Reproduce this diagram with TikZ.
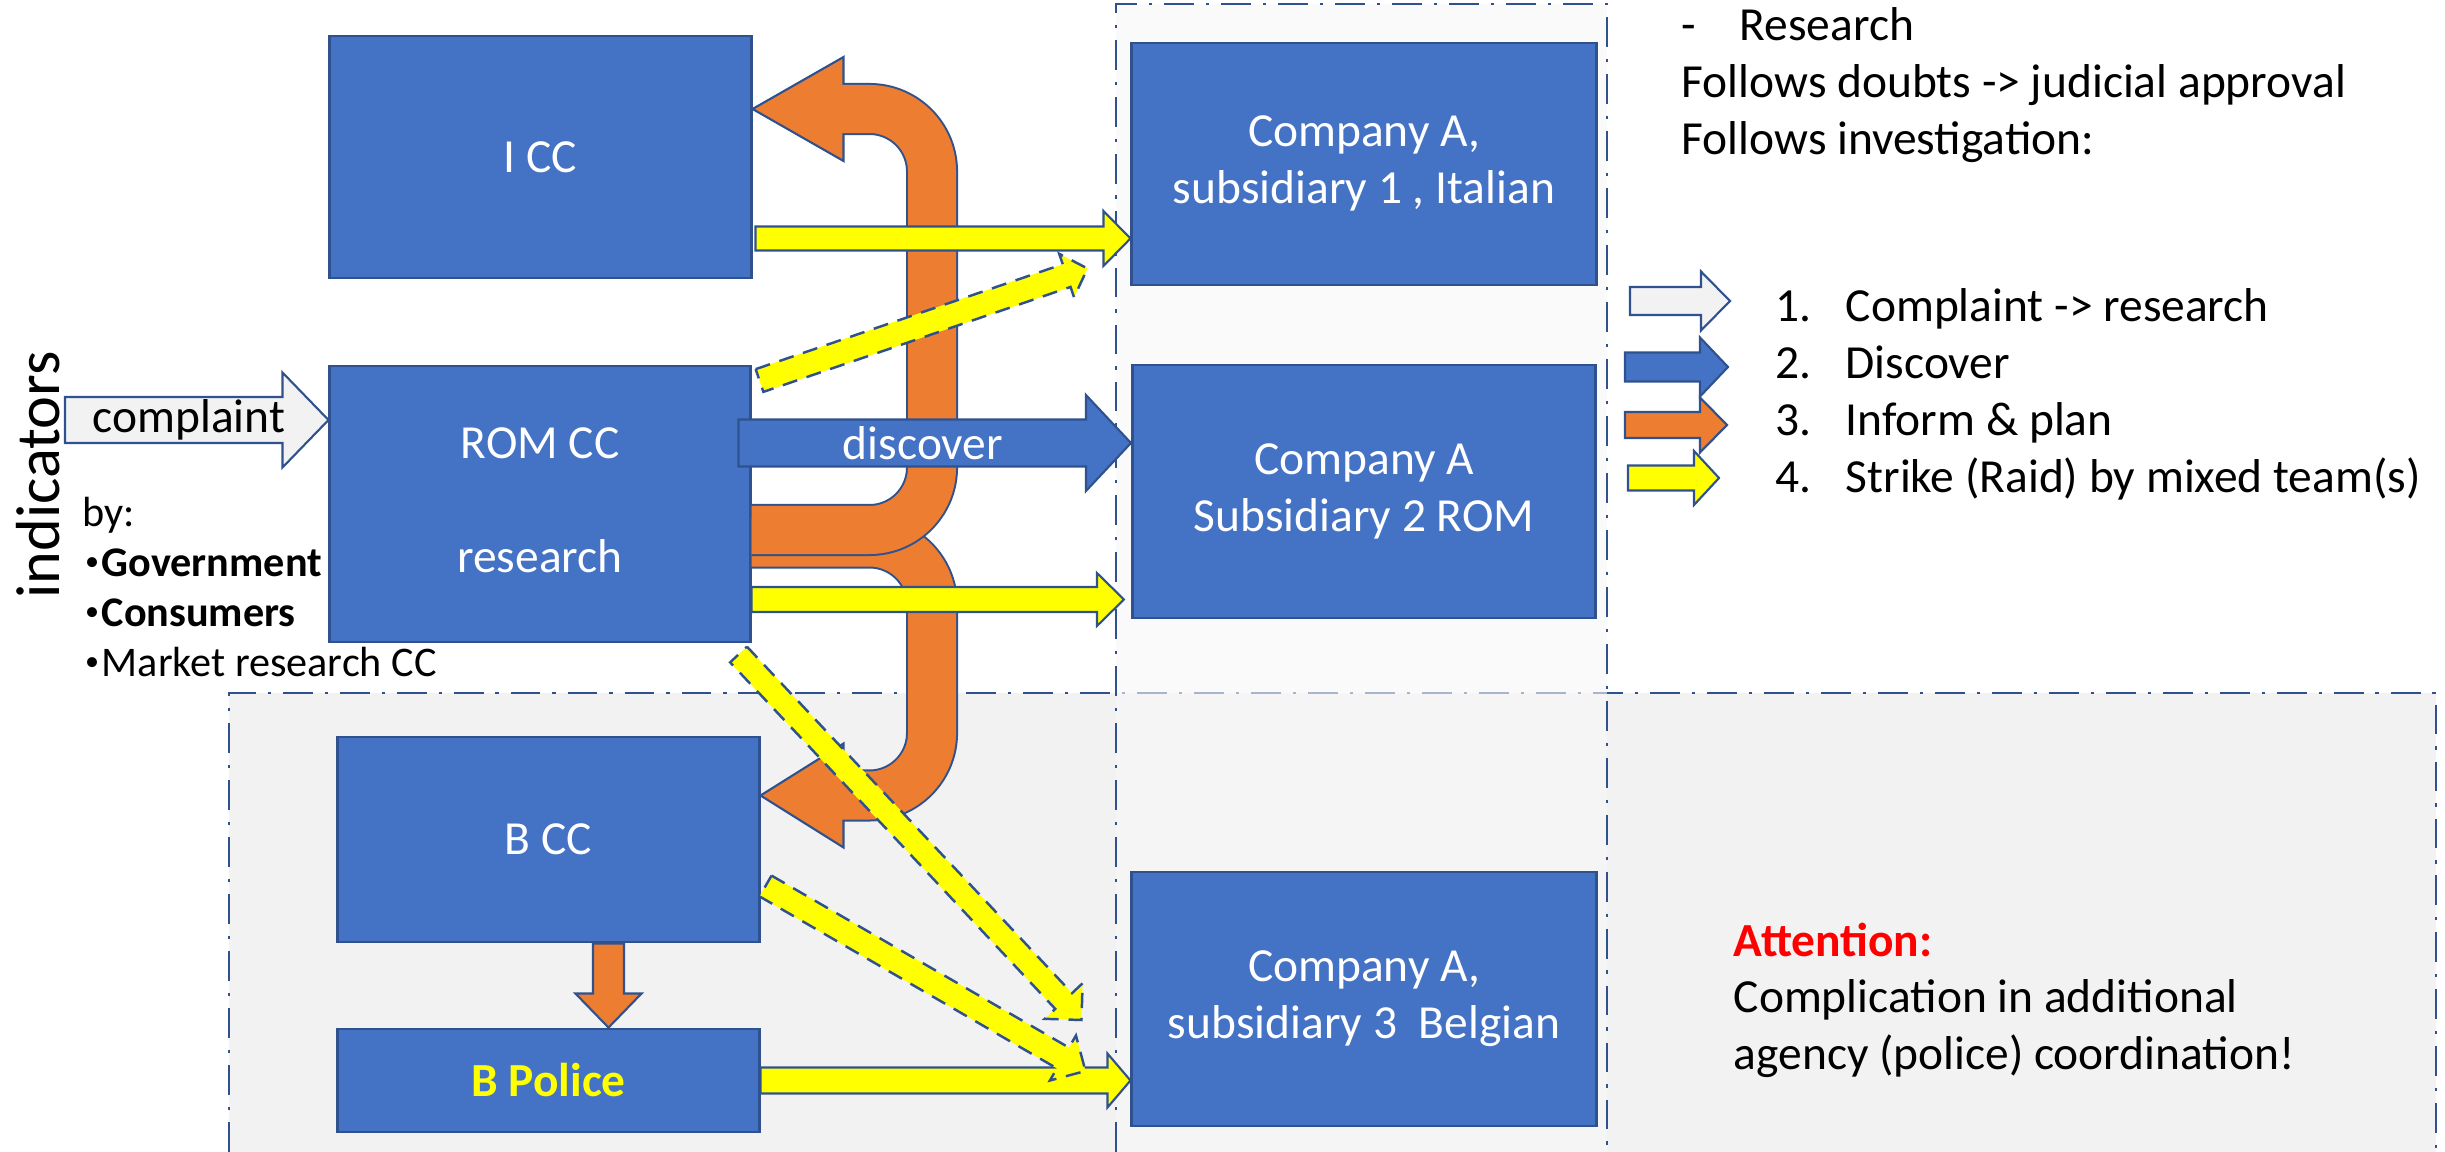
\documentclass[tikz,border=0pt]{standalone}
\usepackage{fontspec}
\setmainfont{Carlito}
\usetikzlibrary{calc}

\definecolor{boxblue}{HTML}{4472C4}
\definecolor{bdrblue}{HTML}{2F528F}
\definecolor{planorange}{HTML}{ED7D31}
\definecolor{raidyellow}{HTML}{FFFF00}
\definecolor{complaintgray}{HTML}{F2F2F2}
\definecolor{columngray}{HTML}{F7F7F7}

\newcommand{\diagfont}{\fontsize{13.5}{16.2}\selectfont}
\newcommand{\byfont}{\fontsize{12}{14.2}\selectfont}
\newcommand{\sidefont}{\fontsize{17.7}{21}\selectfont}
\newcommand{\bydot}{\makebox[0.19cm][c]{\fontsize{8}{8}\selectfont\raisebox{0.45ex}{•}}}

% block arrow: [style]{tail}{tip}{shaft half width}{head half width}{head length}
\newcommand{\blockarrow}[6][]{%
\draw[#1] ($(#2)!#4!90:(#3)$)
  -- ($(#3)!#6!(#2)!#4!90:(#3)$)
  -- ($(#3)!#6!(#2)!#5!90:(#3)$)
  -- (#3)
  -- ($(#3)!#6!(#2)!#5!-90:(#3)$)
  -- ($(#3)!#6!(#2)!#4!-90:(#3)$)
  -- ($(#2)!#4!-90:(#3)$)
  -- cycle;}

\begin{document}
\begin{tikzpicture}[x=0.01cm, y=-0.01cm,
  agency/.style={draw=bdrblue, fill=boxblue, line width=0.8pt, text=white, font=\diagfont, inner sep=0pt},
  frame/.style={draw=bdrblue, line width=0.6pt, dash pattern=on 8.5pt off 3.4pt on 0.9pt off 3.4pt},
  flat/.style={draw=bdrblue, line width=0.6pt, line join=miter},
  raid/.style={flat, fill=raidyellow},
  joint raid/.style={raid, line width=0.7pt, dash pattern=on 4.3pt off 2.8pt},
  plan rim/.style={draw=bdrblue, line width=0.52cm, rounded corners=0.625cm},
  plan band/.style={draw=planorange, line width=0.48cm, rounded corners=0.625cm},
  note/.style={anchor=base west, inner sep=0pt, font=\diagfont}]

\useasboundingbox (0,0) rectangle (2445,1152);

% Belgian zone and company column
\fill[complaintgray] (229,693) rectangle (2436,1152);
\draw[frame] (229,1152) -- (229,693) -- (2436,693) -- (2436,1152);
\fill[columngray, opacity=0.6] (1116,4) rectangle (1607,1152);
\draw[frame] (1116,1152) -- (1116,4) -- (1607,4) -- (1607,1152);

\node[agency, minimum width=4.21cm, minimum height=2.42cm] (i cc) at (540.5,157) {I CC};

\node[agency, minimum width=4.20cm, minimum height=2.76cm] (rom cc) at (540,504) {\begin{tabular}{c}
ROM CC \\
\\
research
\end{tabular}};

\node[agency, minimum width=4.21cm, minimum height=2.05cm] (b cc) at (548.5,839.5) {B CC};

\node[agency, minimum width=4.21cm, minimum height=1.03cm, text=raidyellow, font=\diagfont\bfseries] (b police) at (548.5,1080.5) {B Police};

\node[agency, minimum width=4.64cm, minimum height=2.42cm] (subsidiary 1) at (1364,164) {\begin{tabular}{c}
Company A, \\
subsidiary 1 , Italian
\end{tabular}};

\node[agency, minimum width=4.63cm, minimum height=2.53cm] (subsidiary 2) at (1364,491.5) {\begin{tabular}{c}
Company A \\
Subsidiary 2 ROM
\end{tabular}};

\node[agency, minimum width=4.64cm, minimum height=2.54cm] (subsidiary 3) at (1364,999) {\begin{tabular}{c}
Company A, \\
subsidiary 3\ \ Belgian
\end{tabular}};

\node[rotate=90, anchor=base, inner sep=0pt, font=\sidefont] (indicators) at (60,475) {indicators};

\node[note, font=\byfont] (sources) at (82,527) {\begin{tabular}[t]{@{}l@{}}
by: \\
\bydot\textbf{Government} \\
\bydot\textbf{Consumers} \\
\bydot Market research CC
\end{tabular}};

% complaint
\coordinate (complaint tail) at (65,420);
\coordinate (complaint tip) at (rom cc.west |- complaint tail);
\blockarrow[flat, fill=complaintgray]{complaint tail}{complaint tip}{0.23cm}{0.475cm}{0.46cm}
\node[font=\diagfont] (complaint label) at ($(complaint tail)!0.47!(complaint tip)$) {complaint};

% inform & plan
\coordinate (plan b start) at ($(rom cc.east)+(0,38.5)$);
\coordinate (plan b end) at ($(b cc.east)+(83,-44)$);
\coordinate (plan b tip) at (b cc.east |- plan b end);
\draw[plan rim] (plan b start) -- ++(180.5,0) -- ++(0,253) -- (plan b end);
\draw[flat, fill=planorange] ($(plan b end)+(0,-52)$) -- (plan b tip) -- ($(plan b end)+(0,52)$) -- cycle;
\draw[plan band] (plan b start) -- ++(180.5,0) -- ++(0,253) -- ($(plan b end)+(-4,0)$);

\coordinate (plan a start) at ($(rom cc.east)+(0,26)$);
\coordinate (plan a end) at ($(i cc.east)+(91,-48)$);
\coordinate (plan a tip) at (i cc.east |- plan a end);
\draw[plan rim] (plan a start) -- ++(180.5,0) -- ++(0,-421) -- (plan a end);
\draw[flat, fill=planorange] ($(plan a end)+(0,-52)$) -- (plan a tip) -- ($(plan a end)+(0,52)$) -- cycle;
\draw[plan band] (plan a start) -- ++(180.5,0) -- ++(0,-421) -- ($(plan a end)+(-4,0)$);

\coordinate (police tail) at ($(b cc.south)+(60,0)$);
\coordinate (police tip) at ($(b police.north)+(60,0)$);
\blockarrow[flat, fill=planorange]{police tail}{police tip}{0.155cm}{0.33cm}{0.34cm}

% discover
\coordinate (discover tail) at ($(rom cc.east)+(-13,-61)$);
\coordinate (discover tip) at (subsidiary 2.west |- discover tail);
\blockarrow[flat, fill=boxblue]{discover tail}{discover tip}{0.235cm}{0.48cm}{0.45cm}
\node[font=\diagfont, text=white] (discover label) at ($(discover tail)!0.47!(discover tip)$) {discover};

% strike
\coordinate (italian tail) at ($(i cc.south east)+(3,-41)$);
\coordinate (italian tip) at (subsidiary 1.west |- italian tail);
\blockarrow[raid]{italian tail}{italian tip}{0.12cm}{0.275cm}{0.27cm}

\coordinate (rom tail) at ($(rom cc.south east)+(0,-44)$);
\coordinate (rom tip) at ($(subsidiary 2.west |- rom tail)+(-7,0)$);
\blockarrow[raid]{rom tail}{rom tip}{0.125cm}{0.265cm}{0.27cm}

\coordinate (belgian tip) at (subsidiary 3.west |- b police.east);
\blockarrow[raid]{b police.east}{belgian tip}{0.13cm}{0.27cm}{0.23cm}

\coordinate (mixed 1 tail) at ($(rom cc.north east)+(8,16)$);
\coordinate (mixed 1 tip) at ($(subsidiary 1.south west)+(-43,-18)$);
\blockarrow[joint raid]{mixed 1 tail}{mixed 1 tip}{0.12cm}{0.23cm}{0.22cm}

\coordinate (mixed 2 tail) at ($(rom cc.south east)+(-13,11)$);
\coordinate (mixed 2 tip) at ($(subsidiary 3.west)+(-49,21)$);
\blockarrow[joint raid]{mixed 2 tail}{mixed 2 tip}{0.115cm}{0.26cm}{0.26cm}

\coordinate (mixed 3 tail) at ($(b cc.east)+(5,46.5)$);
\coordinate (mixed 3 tip) at ($(subsidiary 3.west)+(-45,72)$);
\blockarrow[joint raid]{mixed 3 tail}{mixed 3 tip}{0.12cm}{0.26cm}{0.26cm}

% notes
\node[note] (procedure) at (1681,41) {\begin{tabular}[t]{@{}l@{}}
\makebox[0.58cm][l]{-}Research \\
Follows doubts -> judicial approval \\
Follows investigation:
\end{tabular}};

\node[note] (legend) at (1775,322) {\begin{tabular}[t]{@{}l@{}}
\makebox[0.70cm][l]{1.}Complaint -> research \\
\makebox[0.70cm][l]{2.}Discover \\
\makebox[0.70cm][l]{3.}Inform \& plan \\
\makebox[0.70cm][l]{4.}Strike (Raid) by mixed team(s)
\end{tabular}};

\coordinate (key 1 tail) at (1630,301);
\coordinate (key 1 tip) at (1730,301);
\blockarrow[flat, fill=complaintgray]{key 1 tail}{key 1 tip}{0.14cm}{0.295cm}{0.29cm}
\coordinate (key 2 tail) at (1625,367);
\coordinate (key 2 tip) at (1728,367);
\blockarrow[flat, fill=boxblue]{key 2 tail}{key 2 tip}{0.145cm}{0.295cm}{0.28cm}
\coordinate (key 3 tail) at (1625,425);
\coordinate (key 3 tip) at (1727,425);
\blockarrow[flat, fill=planorange]{key 3 tail}{key 3 tip}{0.13cm}{0.275cm}{0.27cm}
\coordinate (key 4 tail) at (1628,478);
\coordinate (key 4 tip) at (1719,478);
\blockarrow[raid]{key 4 tail}{key 4 tip}{0.125cm}{0.27cm}{0.25cm}

\node[note] (attention) at (1733,956) {\begin{tabular}[t]{@{}l@{}}
\textcolor{red}{\textbf{Attention:}} \\
Complication in additional \\
agency (police) coordination!
\end{tabular}};
\end{tikzpicture}
\end{document}
